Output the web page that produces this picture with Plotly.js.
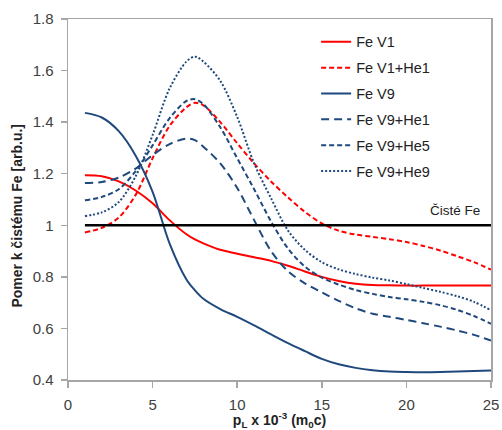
<!DOCTYPE html>
<html>
<head>
<meta charset="utf-8">
<script src="https://cdn.plot.ly/plotly-3.0.1.min.js"></script>
<style>
  html, body { margin: 0; padding: 0; background: #ffffff; }
  #chart { width: 502px; height: 430px; }
</style>
</head>
<body>
<div id="chart"></div>
<script>
// Momentum (p_L x 10^-3, m0c units)
const pL = [1, 2, 3, 4, 5, 6, 7, 7.5, 8, 9, 10, 11, 12, 13, 14, 15, 16, 17, 18, 19, 20, 21, 22, 23, 24, 25];

// Ratio to pure Fe (arb.u.) for each defect configuration
const feV1      = [1.194, 1.19, 1.17, 1.135, 1.085, 1.02, 0.965, 0.945, 0.93, 0.905, 0.89, 0.876, 0.862, 0.843, 0.821, 0.80, 0.784, 0.773, 0.768, 0.767, 0.766, 0.766, 0.766, 0.766, 0.766, 0.766];
const feV1He1   = [0.972, 0.99, 1.03, 1.118, 1.26, 1.385, 1.458, 1.475, 1.465, 1.40, 1.318, 1.24, 1.17, 1.108, 1.052, 1.007, 0.979, 0.964, 0.955, 0.946, 0.935, 0.92, 0.902, 0.88, 0.857, 0.828];
const feV9      = [1.436, 1.418, 1.365, 1.27, 1.13, 0.93, 0.79, 0.748, 0.715, 0.675, 0.645, 0.612, 0.577, 0.543, 0.512, 0.482, 0.461, 0.447, 0.438, 0.433, 0.431, 0.43, 0.431, 0.433, 0.435, 0.437];
const feV9He1   = [1.164, 1.168, 1.185, 1.22, 1.272, 1.315, 1.336, 1.33, 1.305, 1.24, 1.145, 1.02, 0.90, 0.822, 0.775, 0.74, 0.707, 0.678, 0.657, 0.645, 0.633, 0.62, 0.607, 0.592, 0.575, 0.553];
const feV9He5   = [1.097, 1.11, 1.14, 1.21, 1.31, 1.415, 1.482, 1.489, 1.47, 1.38, 1.26, 1.14, 1.015, 0.91, 0.84, 0.797, 0.77, 0.749, 0.734, 0.722, 0.713, 0.703, 0.69, 0.672, 0.648, 0.618];
const feV9He9   = [1.036, 1.05, 1.09, 1.19, 1.35, 1.53, 1.635, 1.654, 1.635, 1.56, 1.42, 1.24, 1.105, 0.98, 0.905, 0.857, 0.829, 0.811, 0.797, 0.786, 0.772, 0.757, 0.742, 0.725, 0.703, 0.67];

// Pure Fe reference level
const pureFeX = [1, 25];
const pureFeY = [1, 1];

const seriesNames = ['Fe V1', 'Fe V1+He1', 'Fe V9', 'Fe V9+He1', 'Fe V9+He5', 'Fe V9+He9'];
const seriesData  = [feV1, feV1He1, feV9, feV9He1, feV9He5, feV9He9];

const RED = '#ff0000';
const BLUE = '#1f497d';
const styles = [
  { color: RED,  dash: 'solid',     width: 2 },
  { color: RED,  dash: '5px,3px',   width: 2 },
  { color: BLUE, dash: 'solid',     width: 2 },
  { color: BLUE, dash: '8px,5px',   width: 2 },
  { color: BLUE, dash: '5px,3px',   width: 2 },
  { color: BLUE, dash: '2px,2px',   width: 2 }
];

const FONT = 'Arial, "Liberation Sans", sans-serif';

const traces = seriesNames.map((name, i) => ({
  type: 'scatter',
  mode: 'lines',
  name: name,
  legendgroup: 'g' + i,
  x: pL,
  y: seriesData[i],
  line: { color: styles[i].color, dash: styles[i].dash, width: styles[i].width, shape: 'spline', smoothing: 0.9 },
  hoverinfo: 'skip'
}));

traces.push({
  type: 'scatter',
  mode: 'lines',
  name: 'Čisté Fe',
  x: pureFeX,
  y: pureFeY,
  showlegend: false,
  line: { color: '#000000', width: 2.5 },
  hoverinfo: 'skip'
});

const axisCommon = {
  showgrid: false,
  zeroline: false,
  showline: true,
  mirror: true,
  linecolor: '#a6a6a6',
  linewidth: 1.5,
  ticks: 'outside',
  ticklen: 6,
  tickwidth: 1.5,
  tickcolor: '#a6a6a6',
  tickfont: { family: FONT, size: 15, color: '#404040' },
  fixedrange: true
};

const layout = {
  width: 502,
  height: 430,
  paper_bgcolor: '#ffffff',
  plot_bgcolor: '#ffffff',
  margin: { l: 68, r: 11, t: 19, b: 50 },
  showlegend: true,
  legend: {
    x: 0.5866, xanchor: 'left',
    y: 0.981, yanchor: 'top',
    bgcolor: 'rgba(0,0,0,0)',
    borderwidth: 0,
    traceorder: 'grouped',
    tracegroupgap: 4,
    font: { family: FONT, size: 14.5, color: '#222222' }
  },
  xaxis: Object.assign({}, axisCommon, {
    range: [0, 25],
    tick0: 0, dtick: 5,
    ticklabelstandoff: 4,
    title: {
      text: '<b>p<sub>L</sub> x 10<sup>-3</sup> (m<sub>0</sub>c)</b>',
      font: { family: FONT, size: 14, color: '#222222' },
      standoff: 6
    }
  }),
  yaxis: Object.assign({}, axisCommon, {
    range: [0.4, 1.8],
    tick0: 0.4, dtick: 0.2,
    ticklabelstandoff: 4
  }),
  annotations: [
    {
      text: 'Čisté Fe',
      xref: 'x', yref: 'y',
      x: 25, y: 1,
      xanchor: 'right', yanchor: 'bottom',
      xshift: -9, yshift: 5,
      showarrow: false,
      font: { family: FONT, size: 13.5, color: '#222222' }
    },
    {
      text: '<b>Pomer k čistému Fe [arb.u.]</b>',
      xref: 'paper', yref: 'paper',
      x: -0.12, y: 0.456,
      xanchor: 'center', yanchor: 'middle',
      textangle: -90,
      showarrow: false,
      font: { family: FONT, size: 14, color: '#222222' }
    }
  ]
};

Plotly.newPlot('chart', traces, layout, { staticPlot: true, displayModeBar: false });
</script>
</body>
</html>
